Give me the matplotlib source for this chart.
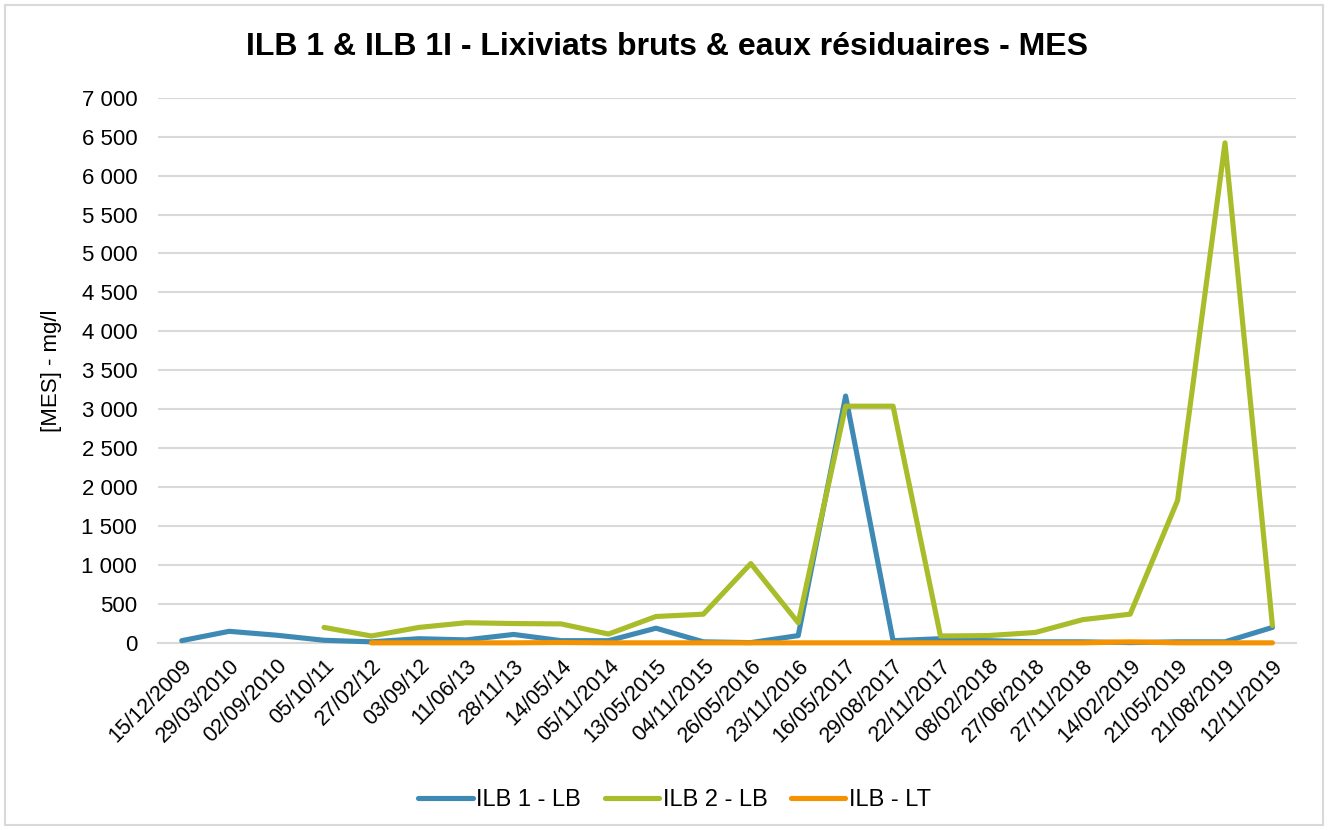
import matplotlib.pyplot as plt
import numpy as np
from matplotlib.ticker import FuncFormatter, MultipleLocator
from matplotlib.patches import Rectangle

plt.rcParams['font.family'] = ['Liberation Sans', 'DejaVu Sans']

dates = ['15/12/2009', '29/03/2010', '02/09/2010', '05/10/11', '27/02/12', '03/09/12',
         '11/06/13', '28/11/13', '14/05/14', '05/11/2014', '13/05/2015', '04/11/2015',
         '26/05/2016', '23/11/2016', '16/05/2017', '29/08/2017', '22/11/2017', '08/02/2018',
         '27/06/2018', '27/11/2018', '14/02/2019', '21/05/2019', '21/08/2019', '12/11/2019']

nan = np.nan
ilb1_lb = [30, 150, 100, 35, 15, 55, 40, 110, 30, 30, 190, 15,
           5, 95, 3170, 30, 55, 30, 15, 15, 5, 15, 15, 200]
ilb2_lb = [nan, nan, nan, 200, 90, 200, 260, 250, 245, 115, 340, 370,
           1020, 260, 3040, 3040, 90, 95, 135, 300, 370, 1830, 6420, 225]
ilb_lt = [nan, nan, nan, nan, 2, 2, 2, 2, 6, 2, 2, 2,
          2, 2, 2, 2, 2, 2, 2, 2, 15, 2, 2, 2]

fig = plt.figure(figsize=(13.28, 8.3), dpi=100)
ax = fig.add_axes([0.119, 0.2253, 0.857, 0.657])

x = np.arange(len(dates))
style = dict(lw=3.7, solid_capstyle='round', solid_joinstyle='round', clip_on=False)
ax.plot(x, ilb1_lb, color='#3F8AB5', label='ILB 1 - LB', zorder=3, **style)
ax.plot(x, ilb2_lb, color='#A9BC2A', label='ILB 2 - LB', zorder=4, **style)
ax.plot(x, ilb_lt, color='#F59200', label='ILB - LT', zorder=5, **style)

ax.set_xlim(-0.5, len(dates) - 0.5)
ax.set_ylim(0, 7000)
ax.yaxis.set_major_locator(MultipleLocator(500))
ax.yaxis.set_major_formatter(FuncFormatter(lambda v, p: f'{int(v):,}'.replace(',', ' ')))
ax.set_xticks(x)
ax.set_xticklabels(dates, rotation=45, ha='right', rotation_mode='anchor', fontsize=15.5)
ax.tick_params(axis='y', labelsize=16, length=0, pad=15)
ax.tick_params(axis='x', length=0, pad=9)

ax.grid(axis='y', color='#D9D9D9', lw=1.5, zorder=0)
ax.set_axisbelow(True)
for s in ['top', 'right', 'left']:
    ax.spines[s].set_visible(False)
ax.spines['bottom'].set_color('#D9D9D9')
ax.spines['bottom'].set_linewidth(1.5)
ax.spines['bottom'].set_zorder(1)

ax.set_ylabel('[MES] - mg/l', fontsize=16, labelpad=14)
fig.text(0.502, 0.943, 'ILB 1 & ILB 1I - Lixiviats bruts & eaux résiduaires - MES',
         ha='center', va='center', fontsize=23, fontweight='bold')

fig.legend(loc='center', bbox_to_anchor=(0.508, 0.036), ncol=3, frameon=False,
           fontsize=17, handlelength=2.3, columnspacing=1.0, handletextpad=0.15)

fig.patches.append(Rectangle((0.004, 0.006), 0.992, 0.988, transform=fig.transFigure,
                             fill=False, edgecolor='#D9D9D9', lw=1.5))

fig.savefig('out.png', dpi=100)
